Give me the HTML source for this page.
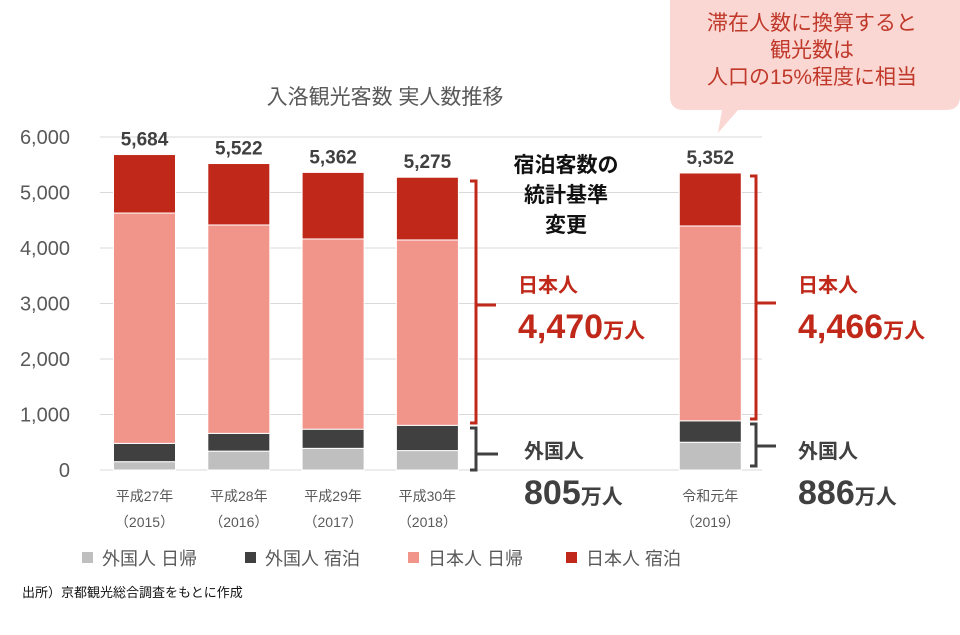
<!DOCTYPE html>
<html><head><meta charset="utf-8"><style>
body{margin:0;background:#fff;font-family:"Liberation Sans","Noto Sans CJK JP",sans-serif;}
svg text{font-family:"Liberation Sans","Noto Sans CJK JP",sans-serif;}
</style></head><body>
<svg id="c" width="960" height="630" viewBox="0 0 960 630">
<text x="385" y="104" font-size="21" fill="#595959" text-anchor="middle">入洛観光客数 実人数推移</text>
<g id="grid"></g><g id="bars"></g><g id="labels"></g>
<g>
<path d="M690,0 L960,0 L960,96 Q960,110 946,110 L738,110 L718,133 L722,110 L684,110 Q670,110 670,96 L670,0 Z" fill="#fad7d2"/>
<text x="812" y="30" font-size="21" fill="#c0392b" text-anchor="middle">滞在人数に換算すると</text>
<text x="812" y="57" font-size="21" fill="#c0392b" text-anchor="middle">観光数は</text>
<text x="812" y="84" font-size="21" fill="#c0392b" text-anchor="middle">人口の15%程度に相当</text>
</g>
<g font-weight="bold" font-size="21" fill="#111" text-anchor="middle">
<text x="566" y="172">宿泊客数の</text><text x="566" y="202">統計基準</text><text x="566" y="232">変更</text>
</g>
<g fill="none" stroke="#c0281a" stroke-width="3">
<path d="M470,181 h6 v242 h-6 M476,305 h20"/></g>
<g fill="none" stroke="#404040" stroke-width="3">
<path d="M470,428 h6 v42 h-6 M476,454 h22"/></g>
<g fill="none" stroke="#c0281a" stroke-width="3">
<path d="M750,176 h6 v243 h-6 M756,303 h20"/></g>
<g fill="none" stroke="#404040" stroke-width="3">
<path d="M750,424 h6 v42 h-6 M756,446 h20"/></g>
<text x="518" y="292" font-size="20" font-weight="bold" fill="#c0281a">日本人</text>
<text x="518" y="338" font-size="34" font-weight="bold" fill="#c0281a">4,470<tspan font-size="21">万人</tspan></text>
<text x="798" y="292" font-size="20" font-weight="bold" fill="#c0281a">日本人</text>
<text x="798" y="338" font-size="34" font-weight="bold" fill="#c0281a">4,466<tspan font-size="21">万人</tspan></text>
<text x="524" y="458" font-size="20" font-weight="bold" fill="#404040">外国人</text>
<text x="524" y="504" font-size="34" font-weight="bold" fill="#404040">805<tspan font-size="21">万人</tspan></text>
<text x="798" y="458" font-size="20" font-weight="bold" fill="#404040">外国人</text>
<text x="798" y="504" font-size="34" font-weight="bold" fill="#404040">886<tspan font-size="21">万人</tspan></text>
<g id="legend" font-size="18" fill="#595959"></g>
<text x="22" y="597" font-size="13" fill="#111">出所）京都観光総合調査をもとに作成</text>
</svg>
<script>
const categories=["平成27年","平成28年","平成29年","平成30年","令和元年"];
const years=["（2015）","（2016）","（2017）","（2018）","（2019）"];
const slots=[0,1,2,3,6];
const foreignDay=[150,340,390,350,500];
const foreignStay=[330,320,345,455,386];
const japanDay=[4150,3755,3428,3340,3511];
const japanStay=[1054,1107,1199,1130,955];
const totals=["5,684","5,522","5,362","5,275","5,352"];
const ticks=[0,1000,2000,3000,4000,5000,6000];
const tickLabels=["0","1,000","2,000","3,000","4,000","5,000","6,000"];
const series=[["外国人 日帰",foreignDay,"#bfbfbf"],["外国人 宿泊",foreignStay,"#404040"],["日本人 日帰",japanDay,"#f1948a"],["日本人 宿泊",japanStay,"#c0281a"]];
const NS="http://www.w3.org/2000/svg";
const y=v=>470-v*333/6000;
const xc=s=>144.5+s*94.3;
function mk(p,t,a,txt){const e=document.createElementNS(NS,t);for(const k in a)e.setAttribute(k,a[k]);if(txt!=null)e.textContent=txt;p.appendChild(e);return e;}
const G=document.getElementById('grid'),B=document.getElementById('bars'),L=document.getElementById('labels'),LG=document.getElementById('legend');
ticks.forEach((t,i)=>{
 const l=mk(G,'line',{x1:100,x2:762,y1:y(t),y2:y(t),stroke:'#d9d9d9','stroke-width':1});
 
 
 const tx=mk(G,'text',{x:70,y:y(t)+7,'font-size':20,fill:'#595959','text-anchor':'end'},tickLabels[i]);
 
 
});
categories.forEach((c,i)=>{
 const cx=xc(slots[i]);let acc=0;
 series.forEach(s=>{
  const v=s[1][i];
  const r=mk(B,'rect',{x:cx-31,width:62,y:y(acc+v),height:y(acc)-y(acc+v),fill:s[2],stroke:'#fff','stroke-width':1});
  
  
  acc+=v;
 });
 const tl=mk(L,'text',{x:cx,y:y(acc)-9,'font-size':19,'font-weight':'bold',fill:'#404040','text-anchor':'middle'},totals[i]);
 
 
 const a=mk(L,'text',{x:cx,y:501,'font-size':14,fill:'#595959','text-anchor':'middle'},c);
 
 
 const b=mk(L,'text',{x:cx,y:527,'font-size':14,fill:'#595959','text-anchor':'middle'},years[i]);
 
 
});
const lx=[82,245,408,566];
series.forEach((s,i)=>{
 const r=mk(LG,'rect',{x:lx[i],y:552,width:11,height:11,fill:s[2]});
 
 
 const t=mk(LG,'text',{x:lx[i]+20,y:565},s[0]);
 
 
});
</script>
</body></html>
